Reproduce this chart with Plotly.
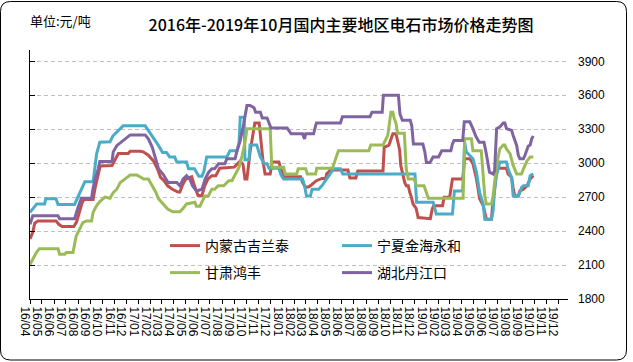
import plotly.graph_objects as go

W, H = 633, 362
ML, MR, MT, MB = 30, 65, 50, 63

title_text = "2016年-2019年10月国内主要地区电石市场价格走势图"
unit_text = "单位:元/吨"

series_names = ["内蒙古吉兰泰", "宁夏金海永和", "甘肃鸿丰", "湖北丹江口"]
series_colors = ["#C0504D", "#4BACC6", "#9BBB59", "#8064A2"]

tick_labels = [
    "16/04", "16/05", "16/06", "16/07", "16/08", "16/09", "16/10", "16/11", "16/12",
    "17/01", "17/02", "17/03", "17/04", "17/05", "17/06", "17/07", "17/08", "17/09",
    "17/10", "17/11", "17/12", "18/01", "18/02", "18/03", "18/04", "18/05", "18/06",
    "18/07", "18/08", "18/09", "18/10", "18/11", "18/12", "19/01", "19/02", "19/03",
    "19/04", "19/05", "19/06", "19/07", "19/08", "19/09", "19/10", "19/11", "19/12",
]
y_ticks = [1800, 2100, 2400, 2700, 3000, 3300, 3600, 3900]
y_range = [1800, 4000]
x_range = ["2016-04-01", "2019-12-26"]

nmg_dates = [
    "2016-04-01", "2016-04-08", "2016-04-13", "2016-04-21", "2016-06-06", "2016-06-13", "2016-06-21",
    "2016-07-21", "2016-07-28", "2016-08-03", "2016-08-11", "2016-08-16", "2016-09-08", "2016-09-13",
    "2016-09-18", "2016-09-23", "2016-09-26", "2016-10-26", "2016-11-03", "2016-11-11", "2016-12-06",
    "2016-12-11", "2017-01-06", "2017-01-13", "2017-01-26", "2017-02-08", "2017-02-18", "2017-02-26",
    "2017-03-08", "2017-03-16", "2017-03-28", "2017-04-11", "2017-04-16", "2017-04-23", "2017-05-01",
    "2017-05-16", "2017-05-23", "2017-06-01", "2017-06-11", "2017-06-18", "2017-06-26", "2017-07-06",
    "2017-07-16", "2017-07-21", "2017-07-26", "2017-09-01", "2017-09-08", "2017-09-16", "2017-09-23",
    "2017-09-28", "2017-10-03", "2017-10-11", "2017-10-18", "2017-10-23", "2017-11-03", "2017-11-08",
    "2017-11-13", "2017-11-18", "2017-12-01", "2017-12-06", "2017-12-23", "2017-12-28", "2018-01-04",
    "2018-02-16", "2018-02-21", "2018-02-28", "2018-03-08", "2018-03-16", "2018-03-28", "2018-04-11",
    "2018-04-21", "2018-04-23", "2018-05-03", "2018-06-16", "2018-06-21", "2018-07-06", "2018-07-11",
    "2018-09-13", "2018-09-16", "2018-09-28", "2018-10-03", "2018-10-08", "2018-10-16", "2018-10-21",
    "2018-10-25", "2018-10-28", "2018-11-03", "2018-11-07", "2018-11-11", "2018-11-16", "2018-11-20",
    "2018-11-23", "2018-11-28", "2018-12-06", "2018-12-11", "2019-01-11", "2019-01-16", "2019-01-20",
    "2019-02-11", "2019-02-15", "2019-03-01", "2019-03-05", "2019-03-08", "2019-04-03", "2019-04-08",
    "2019-04-21", "2019-04-29", "2019-05-08", "2019-05-16", "2019-05-25", "2019-06-02", "2019-06-15",
    "2019-06-19", "2019-06-23", "2019-06-28", "2019-07-02", "2019-07-23", "2019-07-27", "2019-08-05",
    "2019-08-09", "2019-08-13", "2019-08-22", "2019-08-26", "2019-09-04", "2019-09-13", "2019-09-21",
    "2019-09-29",
]
nmg_values = [
    2330, 2390, 2470, 2490, 2490, 2460, 2440,
    2440, 2480, 2560, 2650, 2680, 2680, 2780,
    2860, 2940, 2975, 2980, 3040, 3085, 3085,
    3105, 3105, 3100, 3070, 3020, 2950, 2875,
    2840, 2800, 2770, 2745, 2745, 2810, 2860,
    2880, 2800, 2715, 2715, 2800, 2860, 2890,
    2890, 2930, 2955, 2965, 2995, 3020, 2990,
    2860, 2860, 3100, 3250, 3355, 3355, 3180,
    3010, 2905, 2905, 3010, 3010, 2950, 2880,
    2880, 2830, 2790, 2790, 2810, 2845, 2865,
    2865, 2905, 2940, 2940, 2870, 2870, 2930,
    2930, 3140, 3160, 3210, 3260, 3260, 3180,
    3120, 2980, 2890, 2830, 2800, 2800, 2740,
    2710, 2640, 2600, 2520, 2510, 2600, 2625,
    2625, 2700, 2700, 2780, 2860, 2860, 3040,
    3040, 2995, 2860, 2685, 2625, 2505, 2505,
    2680, 2770, 2950, 2955, 2955, 2905, 2875,
    2780, 2710, 2710, 2755, 2770, 2800, 2860,
    2890,
]

nx_dates = [
    "2016-04-01", "2016-04-08", "2016-04-13", "2016-04-18", "2016-05-08", "2016-05-11", "2016-06-06",
    "2016-06-11", "2016-07-23", "2016-08-01", "2016-08-09", "2016-08-18", "2016-09-08", "2016-09-13",
    "2016-09-17", "2016-09-25", "2016-10-21", "2016-10-28", "2016-11-11", "2016-11-23", "2017-01-18",
    "2017-01-26", "2017-02-08", "2017-02-21", "2017-03-03", "2017-03-13", "2017-03-21", "2017-04-03",
    "2017-04-08", "2017-05-03", "2017-05-08", "2017-05-23", "2017-06-03", "2017-06-11", "2017-06-16",
    "2017-06-23", "2017-08-13", "2017-08-21", "2017-09-08", "2017-09-13", "2017-09-16", "2017-09-26",
    "2017-09-28", "2017-10-08", "2017-10-11", "2017-10-28", "2017-11-06", "2017-11-11", "2017-11-16",
    "2017-11-23", "2017-11-28", "2017-12-23", "2017-12-28", "2018-01-04", "2018-02-21", "2018-02-26",
    "2018-03-03", "2018-03-13", "2018-03-17", "2018-04-03", "2018-04-11", "2018-04-21", "2018-05-03",
    "2018-05-11", "2018-05-28", "2018-06-03", "2018-12-03", "2018-12-07", "2019-01-18", "2019-01-26",
    "2019-03-08", "2019-03-13", "2019-04-03", "2019-04-08", "2019-04-12", "2019-04-21", "2019-04-29",
    "2019-05-08", "2019-05-16", "2019-05-25", "2019-05-29", "2019-06-15", "2019-06-19", "2019-06-23",
    "2019-06-28", "2019-07-02", "2019-07-06", "2019-07-23", "2019-07-27", "2019-08-01", "2019-08-05",
    "2019-08-09", "2019-08-22", "2019-08-26", "2019-08-30", "2019-09-04", "2019-09-16", "2019-09-21",
    "2019-09-29",
]
nx_values = [
    2565, 2600, 2625, 2640, 2640, 2685, 2685,
    2635, 2635, 2710, 2770, 2835, 2835, 2950,
    3085, 3185, 3190, 3240, 3290, 3330, 3330,
    3290, 3230, 3155, 3095, 3095, 3055, 3055,
    3010, 3010, 2950, 2950, 2885, 2885, 2930,
    3055, 3055, 3110, 3110, 3180, 3405, 3405,
    3030, 3030, 3160, 3160, 3055, 3020, 2995,
    2995, 2955, 2955, 2900, 2860, 2860, 2800,
    2710, 2710, 2770, 2770, 2800, 2850, 2905,
    2950, 2950, 2905, 2905, 2655, 2655, 2550,
    2550, 2755, 2755, 3185, 3100, 3070, 3040,
    2920, 2740, 2640, 2505, 2505, 2580, 2770,
    2900, 2950, 3010, 3010, 2950, 2905, 2875,
    2710, 2710, 2740, 2785, 2800, 2800, 2890,
    2905,
]

gs_dates = [
    "2016-04-01", "2016-04-08", "2016-04-17", "2016-04-25", "2016-06-11", "2016-06-15", "2016-06-28",
    "2016-07-02", "2016-07-19", "2016-07-27", "2016-08-05", "2016-08-13", "2016-08-22", "2016-09-04",
    "2016-09-08", "2016-09-17", "2016-09-25", "2016-10-08", "2016-10-21", "2016-10-29", "2016-11-07",
    "2016-11-16", "2016-11-24", "2016-12-03", "2016-12-11", "2016-12-28", "2017-01-06", "2017-01-14",
    "2017-01-26", "2017-02-05", "2017-02-13", "2017-02-21", "2017-03-04", "2017-03-16", "2017-03-29",
    "2017-04-16", "2017-04-24", "2017-05-03", "2017-05-24", "2017-05-28", "2017-06-06", "2017-06-11",
    "2017-06-18", "2017-06-27", "2017-07-06", "2017-07-13", "2017-07-22", "2017-08-05", "2017-08-18",
    "2017-08-26", "2017-09-04", "2017-09-13", "2017-09-21", "2017-09-29", "2017-10-03", "2017-12-01",
    "2017-12-05", "2018-01-04", "2018-01-08", "2018-02-06", "2018-02-10", "2018-03-01", "2018-03-05",
    "2018-03-26", "2018-03-29", "2018-05-08", "2018-05-16", "2018-05-23", "2018-08-08", "2018-08-13",
    "2018-09-13", "2018-09-18", "2018-09-25", "2018-10-03", "2018-10-08", "2018-10-11", "2018-10-16",
    "2018-10-20", "2018-11-06", "2018-11-11", "2018-11-16", "2018-12-01", "2018-12-07", "2018-12-26",
    "2019-01-06", "2019-04-04", "2019-04-08", "2019-04-25", "2019-04-29", "2019-05-20", "2019-05-25",
    "2019-05-29", "2019-06-02", "2019-06-15", "2019-06-19", "2019-06-23", "2019-06-28", "2019-07-06",
    "2019-07-15", "2019-07-19", "2019-07-23", "2019-08-01", "2019-08-09", "2019-08-18", "2019-08-30",
    "2019-09-04", "2019-09-13", "2019-09-21", "2019-09-29",
]
gs_values = [
    2105, 2150, 2210, 2245, 2245, 2195, 2195,
    2210, 2210, 2355, 2420, 2475, 2490, 2490,
    2565, 2625, 2660, 2700, 2690, 2740, 2770,
    2830, 2850, 2875, 2895, 2895, 2875, 2860,
    2860, 2800, 2750, 2685, 2640, 2595, 2570,
    2570, 2600, 2640, 2655, 2620, 2620, 2655,
    2710, 2710, 2770, 2770, 2800, 2800, 2845,
    2845, 2905, 2965, 3070, 3200, 3305, 3305,
    2965, 2965, 2905, 2905, 2950, 2950, 2905,
    2905, 2955, 2955, 3040, 3110, 3110, 3160,
    3160, 3200, 3245, 3450, 3450, 3400, 3350,
    3265, 3265, 2950, 2860, 2860, 2800, 2800,
    2690, 2690, 3215, 3215, 3110, 3110, 2920,
    2710, 2640, 2640, 2710, 2860, 2980, 3125,
    3160, 3160, 3125, 3085, 2980, 2905, 2905,
    2950, 3020, 3055, 3055,
]

hb_dates = [
    "2016-04-01", "2016-04-08", "2016-06-11", "2016-06-15", "2016-07-23", "2016-07-27", "2016-08-01",
    "2016-08-09", "2016-09-04", "2016-09-08", "2016-09-13", "2016-09-21", "2016-09-25", "2016-10-26",
    "2016-10-29", "2016-11-07", "2016-11-20", "2016-11-28", "2016-12-11", "2017-01-18", "2017-01-26",
    "2017-02-05", "2017-02-13", "2017-02-21", "2017-03-05", "2017-03-17", "2017-04-08", "2017-04-16",
    "2017-04-24", "2017-05-03", "2017-05-11", "2017-05-18", "2017-05-28", "2017-06-11", "2017-06-19",
    "2017-06-28", "2017-07-06", "2017-07-13", "2017-07-23", "2017-08-08", "2017-08-13", "2017-09-03",
    "2017-09-08", "2017-09-16", "2017-09-25", "2017-10-03", "2017-10-11", "2017-10-21", "2017-10-25",
    "2017-11-06", "2017-11-11", "2017-11-23", "2017-12-03", "2018-01-13", "2018-01-23", "2018-02-21",
    "2018-02-26", "2018-03-01", "2018-03-21", "2018-03-28", "2018-05-28", "2018-06-02", "2018-08-11",
    "2018-08-16", "2018-09-11", "2018-09-14", "2018-10-22", "2018-10-26", "2018-11-01", "2018-11-21",
    "2018-11-25", "2018-11-29", "2018-12-23", "2018-12-28", "2019-01-01", "2019-01-10", "2019-01-14",
    "2019-01-18", "2019-02-01", "2019-02-05", "2019-02-09", "2019-03-04", "2019-03-08", "2019-03-12",
    "2019-04-03", "2019-04-07", "2019-04-21", "2019-04-29", "2019-05-06", "2019-05-15", "2019-05-27",
    "2019-06-01", "2019-06-06", "2019-06-10", "2019-06-19", "2019-06-23", "2019-06-28", "2019-07-06",
    "2019-07-15", "2019-07-19", "2019-07-23", "2019-08-05", "2019-08-09", "2019-08-18", "2019-08-22",
    "2019-08-26", "2019-09-04", "2019-09-08", "2019-09-16", "2019-09-21", "2019-09-25", "2019-09-29",
]
hb_values = [
    2460, 2535, 2535, 2510, 2510, 2560, 2610,
    2690, 2690, 2780, 2860, 2950, 3015, 3015,
    3100, 3155, 3190, 3215, 3250, 3250, 3215,
    3140, 3055, 2950, 2900, 2830, 2830, 2800,
    2860, 2890, 2860, 2800, 2755, 2770, 2860,
    2920, 2950, 2950, 2995, 2995, 3040, 3040,
    3110, 3200, 3350, 3510, 3510, 3490, 3450,
    3450, 3400, 3400, 3310, 3310, 3260, 3260,
    3215, 3260, 3260, 3355, 3355, 3410, 3410,
    3450, 3450, 3600, 3600, 3435, 3380, 3380,
    3330, 3170, 3170, 3100, 3005, 3005, 3030,
    3055, 3055, 3080, 3110, 3110, 3170, 3200,
    3200, 3365, 3365, 3305, 3240, 3185, 3185,
    3100, 3005, 2920, 2905, 2935, 3305, 3320,
    3355, 3355, 3305, 3290, 3245, 3155, 3070,
    3040, 3040, 3070, 3150, 3160, 3215, 3240,
]

series_dates = [nmg_dates, nx_dates, gs_dates, hb_dates]
series_values = [nmg_values, nx_values, gs_values, hb_values]
legend_refs = ["legend", "legend", "legend2", "legend2"]

tick_dates = ["20" + t[:2] + "-" + t[3:] + "-01" for t in tick_labels]

CJK = "Noto Sans CJK SC"
LAT = "Liberation Sans"

fig = go.Figure()
for name, color, xs, ys, lg in zip(series_names, series_colors, series_dates, series_values, legend_refs):
    fig.add_trace(go.Scatter(
        x=xs, y=ys, name=name, mode="lines",
        line=dict(color=color, width=3),
        legend=lg, hoverinfo="skip",
    ))

# invisible trace for left axis
fig.add_trace(go.Scatter(x=[x_range[0]], y=[y_range[0]], yaxis="y2", mode="lines",
                         showlegend=False, hoverinfo="skip", line=dict(width=0)))

PW = W - ML - MR
PH = H - MT - MB


def px(x):
    return (x - ML) / PW


def py(y):
    return (H - MB - y) / PH


def rounded_rect(x0, y0, x1, y1, r):
    return (
        f"M {px(x0 + r)},{py(y0)} L {px(x1 - r)},{py(y0)} "
        f"Q {px(x1)},{py(y0)} {px(x1)},{py(y0 + r)} "
        f"L {px(x1)},{py(y1 - r)} Q {px(x1)},{py(y1)} {px(x1 - r)},{py(y1)} "
        f"L {px(x0 + r)},{py(y1)} Q {px(x0)},{py(y1)} {px(x0)},{py(y1 - r)} "
        f"L {px(x0)},{py(y0 + r)} Q {px(x0)},{py(y0)} {px(x0 + r)},{py(y0)} Z"
    )


fig.update_layout(
    width=W, height=H,
    margin=dict(l=ML, r=MR, t=MT, b=MB, pad=0, autoexpand=False),
    paper_bgcolor="white", plot_bgcolor="white",
    title=dict(text=title_text, x=341 / W, xanchor="center", xref="container",
               y=1 - 25 / H, yanchor="middle", yref="container", automargin=False,
               font=dict(family=CJK, size=16, color="#000000", weight=500)),
    xaxis=dict(
        type="date", range=x_range, tickmode="array", tickvals=tick_dates, ticktext=tick_labels,
        tickangle=90, ticks="outside", ticklen=4, tickcolor="#000000", tickwidth=1,
        showline=True, linecolor="#000000", linewidth=1, showgrid=False, zeroline=False,
        ticklabelshift=-5, ticklabelstandoff=0, automargin=False,
        tickfont=dict(family=LAT, size=12, color="#000000"),
    ),
    yaxis=dict(
        range=y_range, side="right", tickmode="array", tickvals=y_ticks,
        showgrid=True, gridcolor="#BFBFBF", gridwidth=1, griddash="4px,3px",
        showline=False, zeroline=False, ticks="", ticklabelstandoff=9, automargin=False,
        tickfont=dict(family=LAT, size=12, color="#000000"),
    ),
    yaxis2=dict(
        range=y_range, overlaying="y", side="left", tickmode="array", tickvals=y_ticks,
        showgrid=False, showline=True, linecolor="#000000", linewidth=1, zeroline=False,
        ticks="inside", ticklen=5, tickcolor="#000000", showticklabels=False, automargin=False,
    ),
    legend=dict(
        orientation="h", x=px(165), xanchor="left", y=py(230), yanchor="top",
        bgcolor="rgba(0,0,0,0)", borderwidth=0, entrywidth=127, entrywidthmode="pixels",
        font=dict(family=CJK, size=14, color="#000000"), itemwidth=30,
    ),
    legend2=dict(
        orientation="h", x=px(165), xanchor="left", y=py(257), yanchor="top",
        bgcolor="rgba(0,0,0,0)", borderwidth=0, entrywidth=127, entrywidthmode="pixels",
        font=dict(family=CJK, size=14, color="#000000"), itemwidth=30,
    ),
    annotations=[dict(
        text=unit_text, xref="paper", yref="paper", x=px(28), y=py(20),
        xanchor="left", yanchor="middle", showarrow=False,
        font=dict(family=CJK, size=13, color="#000000"),
    )],
    shapes=[dict(
        type="path", xref="paper", yref="paper", path=rounded_rect(0.5, 1.5, 626.5, 360, 10),
        line=dict(color="#000000", width=1),
    )],
    showlegend=True,
)

fig.write_html("out.html", config={"displayModeBar": False},
               post_script="document.body.style.margin='0';")
